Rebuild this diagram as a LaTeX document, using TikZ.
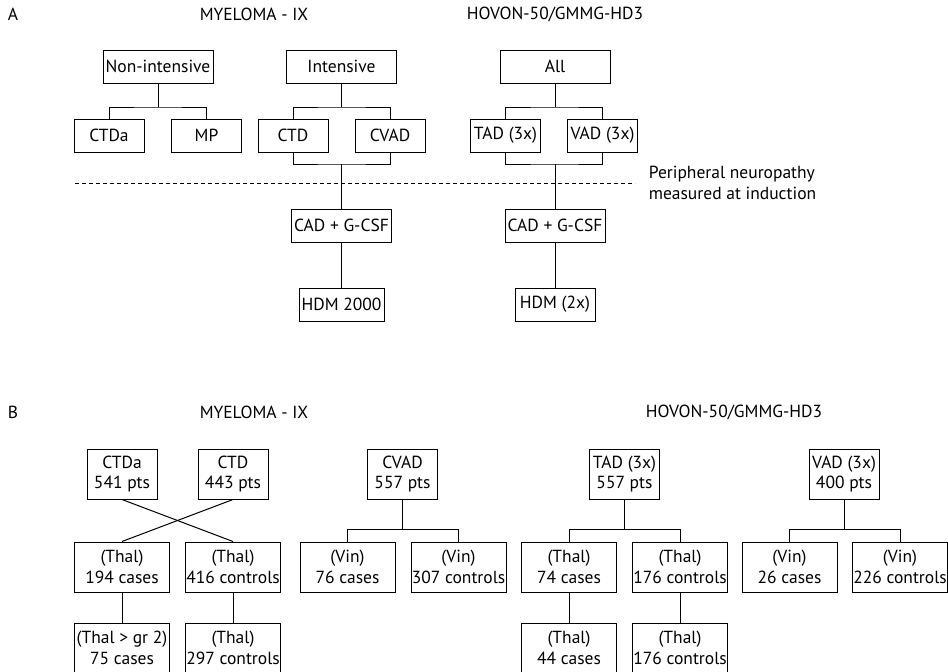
\documentclass[tikz,border=0pt]{standalone}
\usepackage{fontspec}
\setmainfont{PT Sans}
\begin{document}
\begin{tikzpicture}[x=1pt,y=-1pt,line width=1pt,
    every node/.style={font=\fontsize{17.5}{20.5}\selectfont},
    box/.style={draw,inner sep=0pt,minimum height=33pt,align=center},
    wbox/.style={box,minimum width=110pt},
    sbox/.style={box,minimum width=70pt},
    pbox/.style={box,minimum width=70pt,minimum height=50pt},
    cbox/.style={box,minimum width=95pt,minimum height=50pt}]
    \useasboundingbox (0,0) rectangle (948,672);
    \fill[white] (0,0) rectangle (948,672);
    \clip (0,0) rectangle (948,672);

    % Part A: study design
    \node (labA) at (13,14) {A};
    \node (myA) at (254,14) {MYELOMA - IX};
    \node (hovA) at (555,14) {HOVON-50/GMMG-HD3};

    \node[wbox] (nonint) at (158,66.5) {Non-intensive};
    \node[sbox] (ctdaA) at (109,135.5) {CTDa};
    \node[sbox] (mpA) at (206.5,135.5) {MP};
    \node[wbox] (intens) at (341.5,66.5) {Intensive};
    \node[sbox] (ctdA) at (293,135.5) {CTD};
    \node[sbox] (cvadA) at (390,135.5) {CVAD};
    \node[wbox] (allA) at (555,66.5) {All};
    \node[sbox] (tadA) at (505.5,135.5) {TAD (3x)};
    \node[sbox] (vadA) at (602.5,135.5) {VAD (3x)};
    \node[box,minimum width=100pt] (cadA) at (341.5,225.5) {CAD + G-CSF};
    \node[box,minimum width=85pt] (hdmA) at (341.5,304.5) {HDM 2000};
    \node[box,minimum width=100pt] (cadH) at (555,225.5) {CAD + G-CSF};
    \node[box,minimum width=80pt] (hdmH) at (555,304.5) {HDM (2x)};

    % branch and join points
    \coordinate (j1) at (158,107);
    \coordinate (j2) at (341.5,107);
    \coordinate (j3) at (555,107);
    \coordinate (k2) at (341.5,164);
    \coordinate (k3) at (555,164);

    \draw (nonint) -- (j1);
    \draw (ctdaA.north) |- (j1) -| (mpA.north);
    \draw (intens) -- (j2);
    \draw (ctdA.north) |- (j2) -| (cvadA.north);
    \draw (allA) -- (j3);
    \draw (tadA.north) |- (j3) -| (vadA.north);

    \draw (ctdA.south) |- (k2) -| (cvadA.south);
    \draw (k2) -- (cadA) -- (hdmA);
    \draw (tadA.south) |- (k3) -| (vadA.south);
    \draw (k3) -- (cadH) -- (hdmH);

    % induction line
    \coordinate (d1) at (75,183);
    \coordinate (d2) at (635,183);
    \draw[dash pattern=on 4pt off 3pt] (d1) -- (d2);
    \node[anchor=west,align=left] (pnote) at (645,183) {Peripheral neuropathy\\measured at induction};

    % Part B: cases and controls
    \node (labB) at (13,412) {B};
    \node (myB) at (254,412) {MYELOMA - IX};
    \node (hovB) at (734,412) {HOVON-50/GMMG-HD3};

    \node[pbox] (ctdaB) at (122,474) {CTDa\\541 pts};
    \node[pbox] (ctdB) at (233,474) {CTD\\443 pts};
    \node[cbox] (casesT) at (122,567) {(Thal)\\194 cases};
    \node[cbox] (ctrlT) at (233,567) {(Thal)\\416 controls};
    \node[cbox] (casesT2) at (122,648) {(Thal > gr 2)\\75 cases};
    \node[cbox] (ctrlT2) at (233,648) {(Thal)\\297 controls};

    \node[pbox] (cvadB) at (402.5,474) {CVAD\\557 pts};
    \node[cbox] (casesV) at (347.5,567) {(Vin)\\76 cases};
    \node[cbox] (ctrlV) at (458.5,567) {(Vin)\\307 controls};

    \node[pbox] (tadB) at (624.5,474) {TAD (3x)\\557 pts};
    \node[cbox] (casesH) at (569,567) {(Thal)\\74 cases};
    \node[cbox] (ctrlH) at (680,567) {(Thal)\\176 controls};
    \node[cbox] (casesH2) at (569,648) {(Thal)\\44 cases};
    \node[cbox] (ctrlH2) at (680,648) {(Thal)\\176 controls};

    \node[pbox] (vadB) at (844,474) {VAD (3x)\\400 pts};
    \node[cbox] (casesW) at (789.5,567) {(Vin)\\26 cases};
    \node[cbox] (ctrlW) at (900,567) {(Vin)\\226 controls};

    % crossed links (CTDa/CTD)
    \draw (ctdaB.south) -- (ctrlT.north);
    \draw (ctdB.south) -- (casesT.north);
    \draw (casesT) -- (casesT2);
    \draw (ctrlT) -- (ctrlT2);

    \coordinate (m1) at (402.5,529.5);
    \coordinate (m2) at (624.5,529.5);
    \coordinate (m3) at (844,529.5);
    \draw (cvadB) -- (m1);
    \draw (casesV.north) |- (m1) -| (ctrlV.north);
    \draw (tadB) -- (m2);
    \draw (casesH.north) |- (m2) -| (ctrlH.north);
    \draw (casesH) -- (casesH2);
    \draw (ctrlH) -- (ctrlH2);
    \draw (vadB) -- (m3);
    \draw (casesW.north) |- (m3) -| (ctrlW.north);
\end{tikzpicture}
\end{document}
